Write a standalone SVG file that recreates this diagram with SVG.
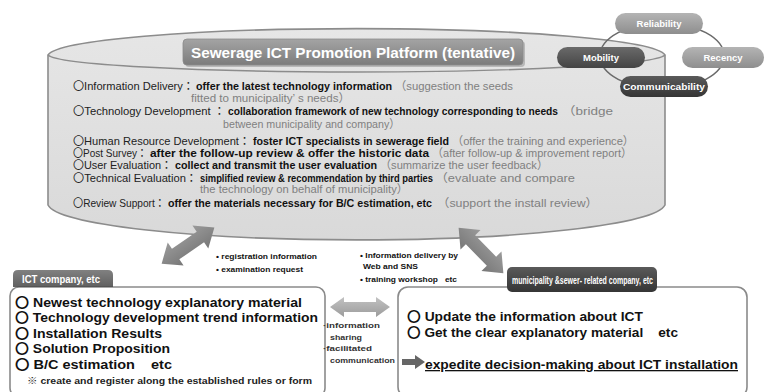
<svg xmlns="http://www.w3.org/2000/svg" width="767" height="392" viewBox="0 0 767 392">
<defs>
<linearGradient id="gTitle" x1="0" y1="0" x2="0" y2="1"><stop offset="0" stop-color="#a4a4a4"/><stop offset="1" stop-color="#7c7c7c"/></linearGradient>
<linearGradient id="gCyl" x1="0" y1="0" x2="0" y2="1"><stop offset="0" stop-color="#e6e6e6"/><stop offset="1" stop-color="#d9d9d9"/></linearGradient>
<linearGradient id="gLight" x1="0" y1="0" x2="0" y2="1"><stop offset="0" stop-color="#b4b4b4"/><stop offset="1" stop-color="#8e8e8e"/></linearGradient>
<linearGradient id="gDark" x1="0" y1="0" x2="0" y2="1"><stop offset="0" stop-color="#6a6a6a"/><stop offset="1" stop-color="#444"/></linearGradient>
<linearGradient id="gDarker" x1="0" y1="0" x2="0" y2="1"><stop offset="0" stop-color="#5a5a5a"/><stop offset="1" stop-color="#353535"/></linearGradient>
<linearGradient id="gArrow" x1="0" y1="0" x2="0" y2="1"><stop offset="0" stop-color="#9a9a9a"/><stop offset="1" stop-color="#777"/></linearGradient>
<linearGradient id="gArrowL" x1="0" y1="0" x2="0" y2="1"><stop offset="0" stop-color="#c2c2c2"/><stop offset="1" stop-color="#9c9c9c"/></linearGradient>
<polygon id="dbl" points="-32,0 -15,-14 -15,-6.5 15,-6.5 15,-14 32,0 15,14 15,6.5 -15,6.5 -15,14"/>
</defs>
<style>
text{font-family:"Liberation Sans","Noto Sans CJK JP",sans-serif;}
.cy{font-size:11.5px;}
.lab{fill:#222;}
.bd{fill:#111;font-weight:bold;}
.gr{fill:#808080;}
.ring{font-family:"Noto Sans CJK JP",sans-serif;}
.pill{font-size:9.5px;font-weight:bold;fill:#fff;text-anchor:middle;}
.item{font-size:13px;font-weight:bold;fill:#111;}
.tiny{font-size:8px;font-weight:bold;fill:#111;}
.mid{font-size:8px;font-weight:bold;fill:#333;}
.box{fill:#fff;stroke:#8a8a8a;stroke-width:1.6;}
</style>
<rect width="767" height="392" fill="#fff"/>

<g id="platform">
<path d="M48,55 A309,28 0 0 1 665,55 L665,205 A309,37 0 0 1 48,205 Z" fill="url(#gCyl)" stroke="#8c8c8c" stroke-width="1.6"/>
<path d="M48,55 A309,18 0 0 0 665,55" fill="none" stroke="#8c8c8c" stroke-width="1.4"/>
<g id="title">
<rect x="185" y="41" width="340" height="26" rx="4" fill="#666" opacity="0.35"/>
<rect x="183" y="39" width="340" height="26" rx="4" fill="url(#gTitle)" stroke="#8a8a8a" stroke-width="0.8"/>
<text x="353" y="58" text-anchor="middle" font-size="15" font-weight="bold" fill="#fff" textLength="324" lengthAdjust="spacingAndGlyphs">Sewerage ICT Promotion Platform (tentative)</text>
</g>
<g class="cy">
<text class="lab" x="73" y="90" textLength="121" lengthAdjust="spacingAndGlyphs"><tspan class="ring">〇</tspan>Information Delivery：</text>
<text class="bd" x="196" y="90" textLength="196" lengthAdjust="spacingAndGlyphs">offer the latest technology information</text>
<text class="gr" x="395" y="90" textLength="118" lengthAdjust="spacingAndGlyphs">（suggestion the seeds</text>
<text class="gr" x="191" y="102" textLength="159" lengthAdjust="spacingAndGlyphs">fitted to municipality’ s needs）</text>

<text class="lab" x="73" y="115" textLength="152" lengthAdjust="spacingAndGlyphs"><tspan class="ring">〇</tspan>Technology Development ：</text>
<text class="bd" x="228" y="115" textLength="330" lengthAdjust="spacingAndGlyphs">collaboration framework of new technology corresponding to needs</text>
<text class="gr" x="562" y="115" textLength="51" lengthAdjust="spacingAndGlyphs">（bridge</text>
<text class="gr" x="223" y="128" textLength="177" lengthAdjust="spacingAndGlyphs">between municipality and company）</text>

<text class="lab" x="73" y="145" textLength="177" lengthAdjust="spacingAndGlyphs"><tspan class="ring">〇</tspan>Human Resource Development：</text>
<text class="bd" x="253" y="145" textLength="196" lengthAdjust="spacingAndGlyphs">foster ICT specialists in sewerage field</text>
<text class="gr" x="452" y="145" textLength="182" lengthAdjust="spacingAndGlyphs">（offer the training and experience）</text>

<text class="lab" x="73" y="157" textLength="74" lengthAdjust="spacingAndGlyphs"><tspan class="ring">〇</tspan>Post Survey：</text>
<text class="bd" x="150" y="157" textLength="279" lengthAdjust="spacingAndGlyphs">after the follow-up review &amp; offer the historic data</text>
<text class="gr" x="432" y="157" textLength="200" lengthAdjust="spacingAndGlyphs">（after follow-up &amp; improvement report）</text>

<text class="lab" x="73" y="169" textLength="99" lengthAdjust="spacingAndGlyphs"><tspan class="ring">〇</tspan>User Evaluation：</text>
<text class="bd" x="175" y="169" textLength="202" lengthAdjust="spacingAndGlyphs">collect and transmit the user evaluation</text>
<text class="gr" x="380" y="169" textLength="168" lengthAdjust="spacingAndGlyphs">（summarize the user feedback）</text>

<text class="lab" x="73" y="182" textLength="124" lengthAdjust="spacingAndGlyphs"><tspan class="ring">〇</tspan>Technical Evaluation：</text>
<text class="bd" x="200" y="182" textLength="233" lengthAdjust="spacingAndGlyphs">simplified review &amp; recommendation by third parties</text>
<text class="gr" x="435" y="182" textLength="140" lengthAdjust="spacingAndGlyphs">（evaluate and compare</text>
<text class="gr" x="200" y="193" textLength="208" lengthAdjust="spacingAndGlyphs">the technology on behalf of municipality）</text>

<text class="lab" x="73" y="207" textLength="92" lengthAdjust="spacingAndGlyphs"><tspan class="ring">〇</tspan>Review Support：</text>
<text class="bd" x="168" y="207" textLength="264" lengthAdjust="spacingAndGlyphs">offer the materials necessary for B/C estimation, etc</text>
<text class="gr" x="437" y="207" textLength="161" lengthAdjust="spacingAndGlyphs">（support the install review）</text>
</g>
</g>

<g id="qualities">
<ellipse cx="662" cy="56" rx="62" ry="33" fill="none" stroke="#6a6a6a" stroke-width="1.5"/>
<g id="reliability"><rect x="615" y="13" width="88" height="21" rx="10.5" fill="url(#gLight)"/><text class="pill" x="659" y="27">Reliability</text></g>
<g id="mobility"><rect x="557" y="47" width="88" height="21" rx="10.5" fill="url(#gDark)"/><text class="pill" x="601" y="61">Mobility</text></g>
<g id="recency"><rect x="682" y="47" width="82" height="21" rx="10.5" fill="url(#gLight)"/><text class="pill" x="723" y="61">Recency</text></g>
<g id="communicability"><rect x="620" y="76" width="88" height="21" rx="10.5" fill="url(#gDarker)"/><text class="pill" x="664" y="90" textLength="82" lengthAdjust="spacingAndGlyphs">Communicability</text></g>
</g>

<g id="ict-company">
<rect class="box" x="10" y="287" width="315" height="110" rx="9"/>
<path d="M13,287 L13,275 Q13,270 18,270 L108,270 Q113,270 113,275 L113,287 Z" fill="url(#gDark)" opacity="0.85"/>
<text x="22" y="283" font-size="10" font-weight="bold" fill="#fff" textLength="78" lengthAdjust="spacingAndGlyphs">ICT company, etc</text>
<text class="item" x="15" y="307" textLength="287" lengthAdjust="spacingAndGlyphs"><tspan class="ring">〇</tspan> Newest technology explanatory material</text>
<text class="item" x="15" y="322" textLength="303" lengthAdjust="spacingAndGlyphs"><tspan class="ring">〇</tspan> Technology development trend information</text>
<text class="item" x="15" y="338" textLength="147" lengthAdjust="spacingAndGlyphs"><tspan class="ring">〇</tspan> Installation Results</text>
<text class="item" x="15" y="353" textLength="155" lengthAdjust="spacingAndGlyphs"><tspan class="ring">〇</tspan> Solution Proposition</text>
<text class="item" x="15" y="369" textLength="157" lengthAdjust="spacingAndGlyphs" xml:space="preserve"><tspan class="ring">〇</tspan> B/C estimation    etc</text>
<text x="27" y="384" font-size="9" font-weight="bold" fill="#222" textLength="285" lengthAdjust="spacingAndGlyphs">※ create and register along the established rules or form</text>
</g>

<g id="municipality">
<rect class="box" x="398" y="287" width="349" height="110" rx="10"/>
<rect x="507" y="267" width="150" height="25" rx="5" fill="url(#gDarker)"/>
<text x="512" y="284" font-size="10.5" font-weight="bold" fill="#fff" textLength="141" lengthAdjust="spacingAndGlyphs">municipality &amp;sewer- related company, etc</text>
<text class="item" x="407" y="321" textLength="236" lengthAdjust="spacingAndGlyphs"><tspan class="ring">〇</tspan> Update the information about ICT</text>
<text class="item" x="407" y="337" textLength="271" lengthAdjust="spacingAndGlyphs" xml:space="preserve"><tspan class="ring">〇</tspan> Get the clear explanatory material    etc</text>
<polygon points="402,359 415,359 415,355 425,362 415,369 415,365 402,365" fill="#666"/>
<text class="item" x="425" y="369" textLength="313" lengthAdjust="spacingAndGlyphs" text-decoration="underline">expedite decision-making about ICT installation</text>
</g>

<g id="connectors">
<use href="#dbl" fill="url(#gArrow)" transform="translate(188,245.5) rotate(-34.5)"/>
<use href="#dbl" fill="url(#gArrow)" transform="translate(481,250.5) rotate(45.6)"/>
<polygon points="330,307 344,297 344,302 376,302 376,297 390,307 376,317 376,312 344,312 344,317" fill="url(#gArrowL)"/>
<text class="tiny" x="216" y="259" textLength="101" lengthAdjust="spacingAndGlyphs">• registration information</text>
<text class="tiny" x="216" y="272" textLength="87" lengthAdjust="spacingAndGlyphs">• examination request</text>
<text class="tiny" x="360" y="258" textLength="98" lengthAdjust="spacingAndGlyphs">• Information delivery by</text>
<text class="tiny" x="363" y="269" textLength="55" lengthAdjust="spacingAndGlyphs">Web and SNS</text>
<text class="tiny" x="360" y="282" textLength="97" lengthAdjust="spacingAndGlyphs" xml:space="preserve">• training workshop   etc</text>
<text class="mid" x="323" y="328" textLength="57" lengthAdjust="spacingAndGlyphs">·information</text>
<text class="mid" x="330" y="340" textLength="32" lengthAdjust="spacingAndGlyphs">sharing</text>
<text class="mid" x="323" y="351" textLength="49" lengthAdjust="spacingAndGlyphs">·facilitated</text>
<text class="mid" x="330" y="363" textLength="65" lengthAdjust="spacingAndGlyphs">communication</text>
</g>
</svg>
